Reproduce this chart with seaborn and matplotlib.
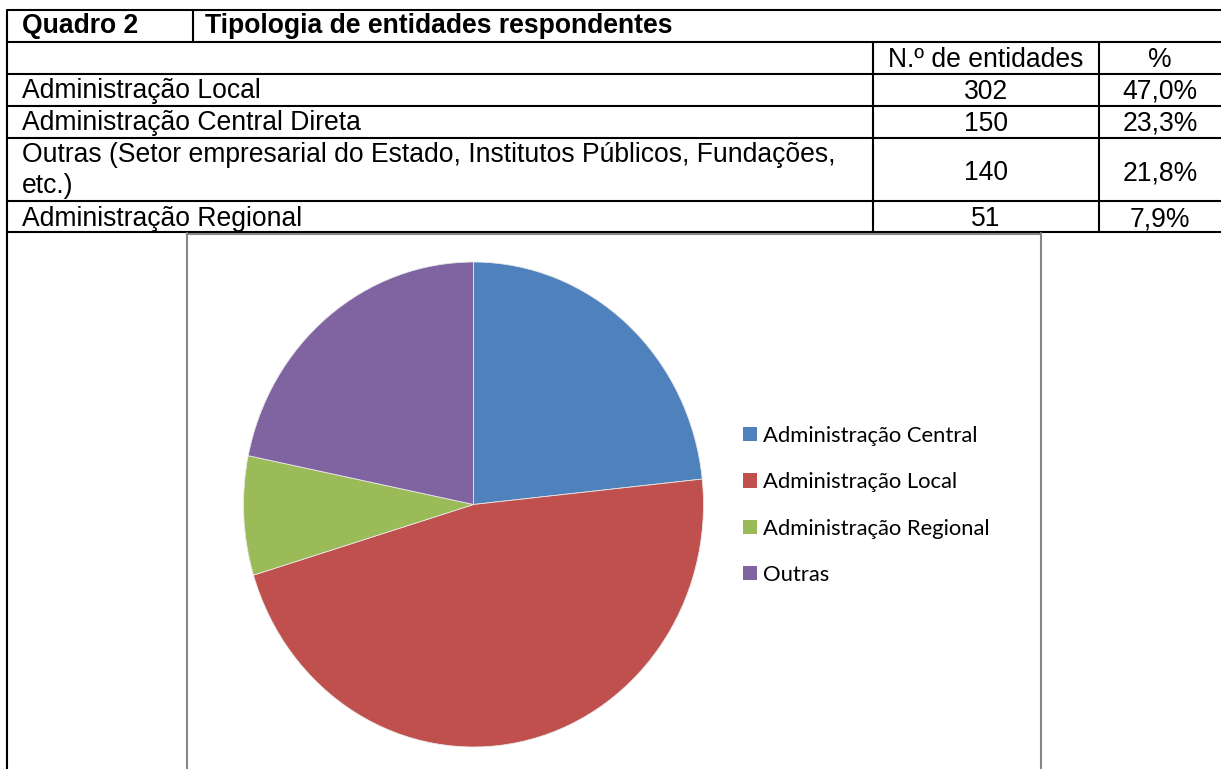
import matplotlib
matplotlib.use("Agg")
import matplotlib.pyplot as plt
import seaborn as sns

# ---------------- data ----------------
title_left = "Quadro 2"
title_right = "Tipologia de entidades respondentes"
col_headers = ["N.º de entidades", "%"]
row_labels = [
    ["Administração Local"],
    ["Administração Central Direta"],
    ["Outras (Setor empresarial do Estado, Institutos Públicos, Fundações,", "etc.)"],
    ["Administração Regional"],
]
row_counts = ["302", "150", "140", "51"]
row_pcts = ["47,0%", "23,3%", "21,8%", "7,9%"]

pie_labels = ["Administração Central", "Administração Local", "Administração Regional", "Outras"]
pie_values = [150, 302, 51, 140]
pie_colors = ["#4F81BD", "#C0504D", "#9BBB59", "#8064A2"]

# ---------------- style ----------------
sns.set_theme(style="white")
plt.rcParams["font.family"] = ["Liberation Sans", "DejaVu Sans"]
plt.rcParams["text.color"] = "black"
palette = sns.color_palette(pie_colors)

W, H = 1221, 769
fig = plt.figure(figsize=(W / 100, H / 100), dpi=100)
fig.patch.set_facecolor("white")

bg = fig.add_axes([0, 0, 1, 1])
bg.set_xlim(0, W)
bg.set_ylim(H, 0)
bg.axis("off")

LW = 1.5
TFS = 19.1
x_left, x_sep1, x_c1, x_c2, x_right = 7, 193, 873, 1099, 1225
row_lines = [10, 42, 74, 106, 138, 201, 232]

# horizontal rules
for y in row_lines:
    bg.plot([x_left, x_right], [y, y], color="black", lw=LW, solid_capstyle="butt")
# left border full height
bg.plot([x_left, x_left], [row_lines[0], H + 5], color="black", lw=LW)
# title separator
bg.plot([x_sep1, x_sep1], [row_lines[0], row_lines[1]], color="black", lw=LW)
# column separators
for x in (x_c1, x_c2):
    bg.plot([x, x], [row_lines[1], row_lines[-1]], color="black", lw=LW)

# title row
bg.text(22, 33, title_left, fontsize=TFS, fontweight="bold", va="baseline", ha="left", color="black")
bg.text(205, 33, title_right, fontsize=TFS, fontweight="bold", va="baseline", ha="left", color="black")

# header row
cx1 = (x_c1 + x_c2) / 2
cx2 = 1160
bg.text(cx1, 67, col_headers[0], fontsize=TFS, va="baseline", ha="center", color="black")
bg.text(cx2, 67, col_headers[1], fontsize=TFS, va="baseline", ha="center", color="black")

label_baselines = [[98], [130], [162, 193], [226]]
value_baselines = [99, 131, 180, 226]
for labels, bls, cnt, pct, vb in zip(row_labels, label_baselines, row_counts, row_pcts, value_baselines):
    for lab, b in zip(labels, bls):
        bg.text(22, b, lab, fontsize=TFS, va="baseline", ha="left", color="black")
    bg.text(cx1, vb, cnt, fontsize=TFS, va="baseline", ha="center", color="black")
    bg.text(cx2, vb, pct, fontsize=TFS, va="baseline", ha="center", color="black")

# chart frame
frame_col = "#878787"
bg.plot([187, 187], [233, H + 5], color=frame_col, lw=1.5)
bg.plot([187, 1041], [233.5, 233.5], color=frame_col, lw=1.5)
bg.plot([1041, 1041], [233, H + 5], color=frame_col, lw=1.5)

# ---------------- pie ----------------
cx, cy, rx, ry = 473.5, 504.5, 230, 242.5
pie_ax = fig.add_axes([(cx - rx) / W, (H - cy - ry) / H, 2 * rx / W, 2 * ry / H])
wedges, _ = pie_ax.pie(pie_values, colors=palette, startangle=90, counterclock=False,
                       radius=1, wedgeprops=dict(linewidth=0.6, edgecolor="#e8e8e8"))
pie_ax.set_aspect("auto")
pie_ax.set_xlim(-1, 1)
pie_ax.set_ylim(-1, 1)
pie_ax.axis("off")

leg = fig.legend(wedges, pie_labels, loc="upper left",
                 bbox_to_anchor=(743 / W, (H - 426) / H),
                 frameon=False, prop={"family": ["Lato", "DejaVu Sans"], "size": 15.8},
                 handlelength=0.62, handleheight=0.62, handletextpad=0.28,
                 labelspacing=1.2, borderpad=0, borderaxespad=0)
for p in leg.get_patches():
    p.set_edgecolor("none")
for t in leg.get_texts():
    t.set_color("black")

fig.savefig("out.png", dpi=100, facecolor="white")
